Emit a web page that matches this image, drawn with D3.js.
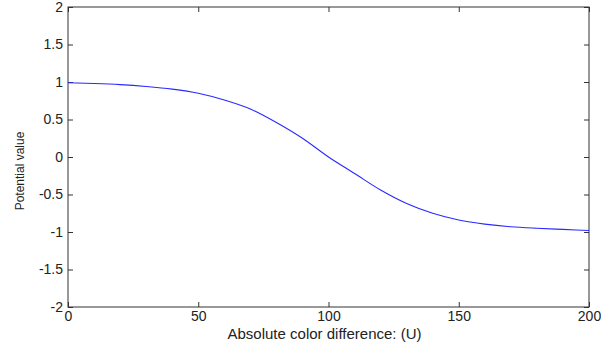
<!DOCTYPE html>
<html>
<head>
<meta charset="utf-8">
<script src="https://cdn.jsdelivr.net/npm/d3@7"></script>
<style>
  body { margin: 0; background: #fff; }
  text { font-family: Arial, "Liberation Sans", sans-serif; fill: #222; }
</style>
</head>
<body>
<svg id="chart" width="601" height="347"></svg>
<script>
// values
const colorDiff = [0, 10, 20, 30, 40, 50, 60, 70, 80, 90, 100, 110, 120, 130, 140, 150, 160, 170, 180, 190, 200];
const potential = [0.99, 0.98, 0.965, 0.94, 0.905, 0.85, 0.76, 0.64, 0.46, 0.25, 0.0, -0.22, -0.44, -0.62, -0.75, -0.84, -0.895, -0.93, -0.95, -0.965, -0.98];
const xTicks = [0, 50, 100, 150, 200];
const yTicks = [-2, -1.5, -1, -0.5, 0, 0.5, 1, 1.5, 2];

const plotL = 68, plotR = 589, plotT = 7, plotB = 307;

const svg = d3.select('#chart');

const x = d3.scaleLinear().domain([0, 200]).range([plotL, plotR]);
const y = d3.scaleLinear().domain([-2, 2]).range([plotB, plotT]);

const axisColor = '#333';

// box
svg.append('rect')
  .attr('x', plotL)
  .attr('y', plotT)
  .attr('width', plotR - plotL)
  .attr('height', plotB - plotT)
  .style('fill', 'none')
  .style('stroke', axisColor)
  .style('stroke-width', 1);

// axes with inward ticks
svg.append('g')
  .attr('transform', `translate(0,${plotB})`)
  .call(d3.axisBottom(x).tickValues(xTicks).tickSize(-5).tickPadding(4).tickFormat(d3.format('d')));
svg.append('g')
  .attr('transform', `translate(${plotL},0)`)
  .call(d3.axisLeft(y).tickValues(yTicks).tickSize(-5).tickPadding(5).tickFormat((d) => String(d)));
svg.append('g')
  .attr('transform', `translate(0,${plotT})`)
  .call(d3.axisTop(x).tickValues(xTicks).tickSize(-5).tickFormat(''));
svg.append('g')
  .attr('transform', `translate(${plotR},0)`)
  .call(d3.axisRight(y).tickValues(yTicks).tickSize(-5).tickFormat(''));

svg.selectAll('.domain').remove();
svg.selectAll('.tick line').style('stroke', axisColor);
svg.selectAll('.tick text').style('font-size', '14px').style('fill', '#222');

// curve
const line = d3.line()
  .x((d, i) => x(colorDiff[i]))
  .y((d) => y(d))
  .curve(d3.curveMonotoneX);

svg.append('path')
  .datum(potential)
  .attr('d', line)
  .style('fill', 'none')
  .style('stroke', '#2a2aff')
  .style('stroke-width', 1.1);

// labels
svg.append('text')
  .attr('x', (plotL + plotR) / 2 - 4)
  .attr('y', 339)
  .attr('text-anchor', 'middle')
  .style('font-size', '15px')
  .text('Absolute color difference: (U)');

svg.append('text')
  .attr('transform', 'translate(24,171) rotate(-90)')
  .attr('text-anchor', 'middle')
  .style('font-size', '12px')
  .text('Potential value');
</script>
</body>
</html>
